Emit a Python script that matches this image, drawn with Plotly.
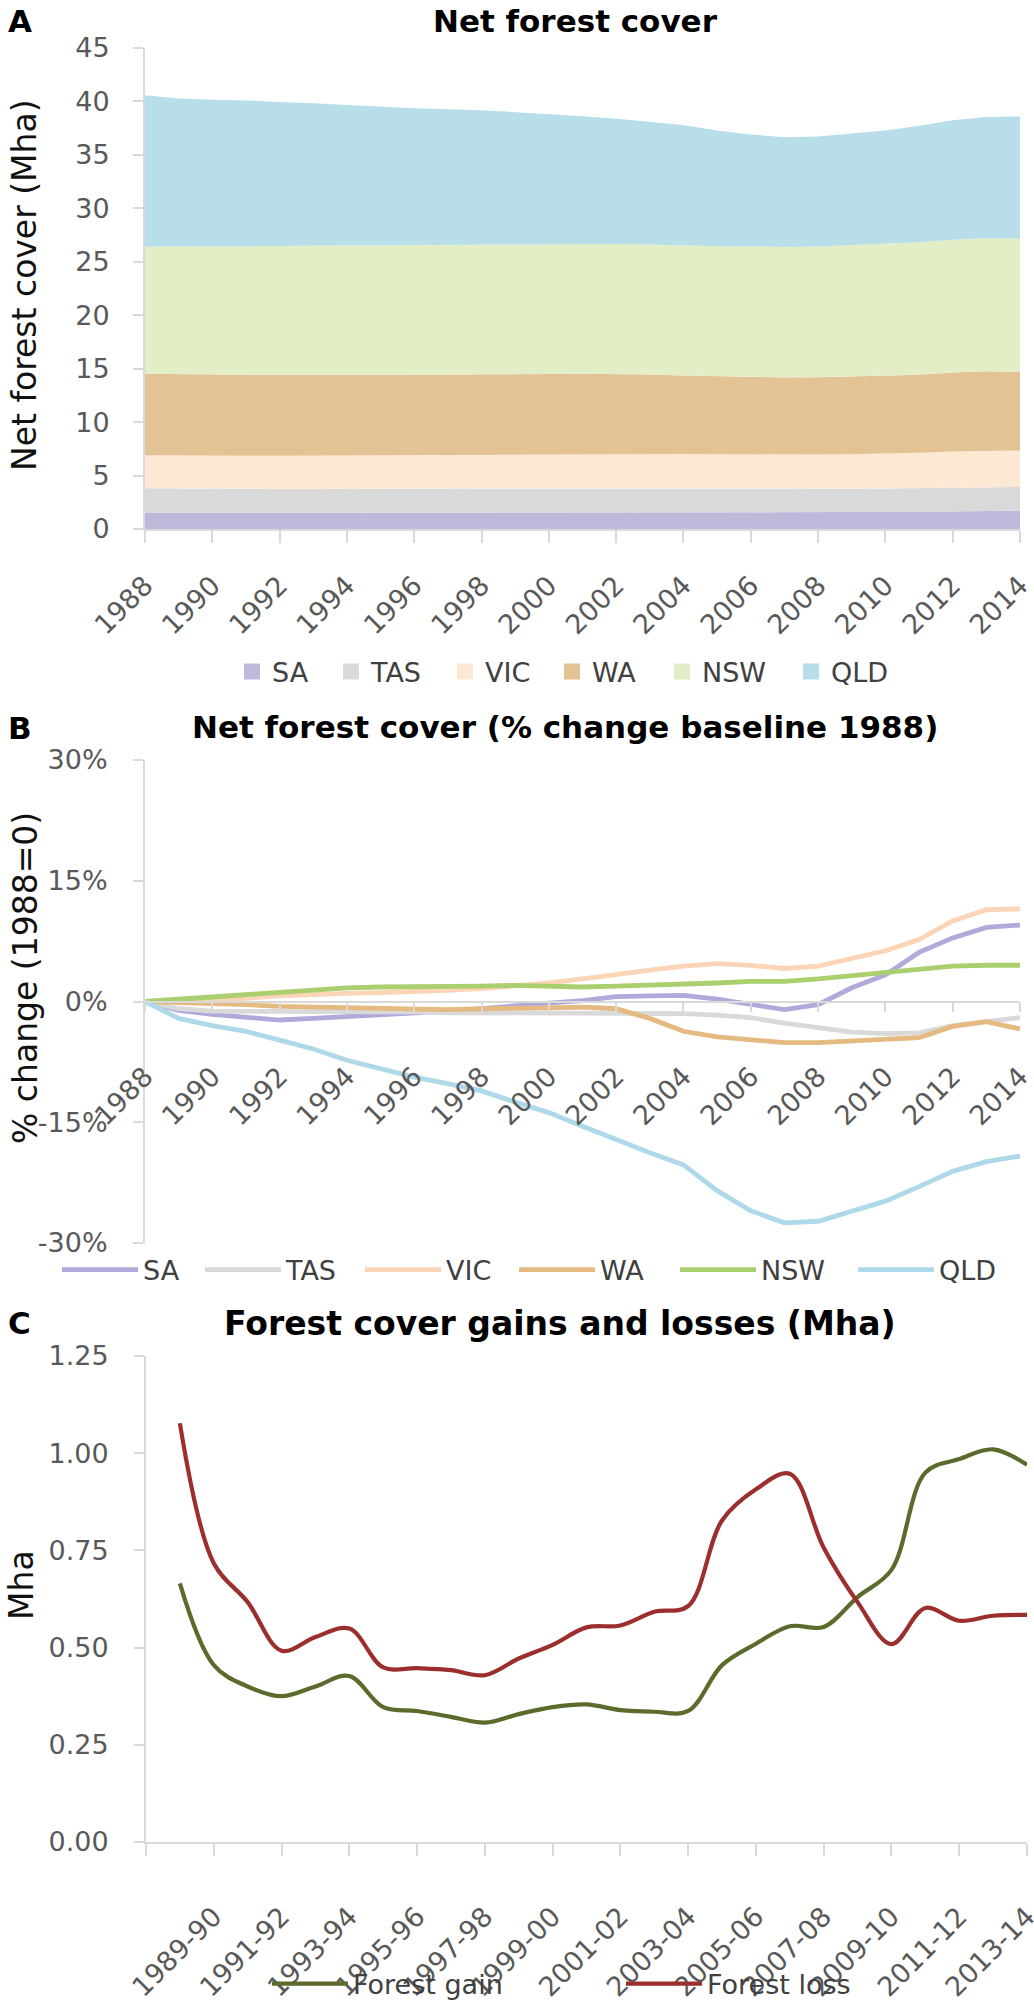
import plotly.graph_objects as go

W, H = 1034, 2006

# ---------------- data ----------------
years = list(range(1988, 2015))
states = ["SA", "TAS", "VIC", "WA", "NSW", "QLD"]

# Panel A: net forest cover (Mha)
cover_SA = [1.55, 1.53, 1.53, 1.52, 1.51, 1.52, 1.52, 1.52, 1.53, 1.53, 1.54, 1.54, 1.55, 1.55,
            1.56, 1.56, 1.56, 1.55, 1.54, 1.53, 1.54, 1.58, 1.60, 1.64, 1.67, 1.69, 1.70]
cover_TAS = [2.27, 2.25, 2.24, 2.24, 2.24, 2.24, 2.24, 2.24, 2.24, 2.24, 2.24, 2.24, 2.24, 2.24,
             2.24, 2.24, 2.24, 2.23, 2.22, 2.21, 2.20, 2.18, 2.18, 2.18, 2.20, 2.21, 2.22]
cover_VIC = [3.08, 3.08, 3.09, 3.09, 3.10, 3.11, 3.11, 3.11, 3.12, 3.12, 3.13, 3.14, 3.15, 3.17,
             3.18, 3.20, 3.22, 3.22, 3.22, 3.21, 3.22, 3.24, 3.27, 3.32, 3.39, 3.43, 3.43]
cover_WA = [7.62, 7.61, 7.60, 7.59, 7.57, 7.57, 7.56, 7.55, 7.54, 7.54, 7.55, 7.55, 7.56, 7.57,
            7.55, 7.46, 7.34, 7.28, 7.25, 7.23, 7.23, 7.25, 7.26, 7.28, 7.38, 7.43, 7.36]
cover_NSW = [11.91, 11.95, 11.98, 12.02, 12.05, 12.08, 12.11, 12.12, 12.12, 12.14, 12.14, 12.15, 12.14, 12.12,
             12.14, 12.15, 12.16, 12.18, 12.21, 12.21, 12.24, 12.29, 12.34, 12.40, 12.43, 12.45, 12.45]
cover_QLD = [14.15, 13.85, 13.73, 13.63, 13.47, 13.32, 13.12, 12.96, 12.82, 12.71, 12.58, 12.38, 12.20, 11.96,
             11.72, 11.49, 11.28, 10.82, 10.47, 10.26, 10.29, 10.47, 10.64, 10.90, 11.16, 11.33, 11.43]

# Panel B: % change vs 1988
pct_SA = [0, -1.1, -1.6, -2.0, -2.3, -2.1, -1.9, -1.7, -1.5, -1.2, -0.9, -0.5, -0.2, 0.1,
          0.6, 0.7, 0.75, 0.3, -0.4, -1.0, -0.4, 1.7, 3.3, 6.1, 7.9, 9.2, 9.5]
pct_TAS = [0, -0.9, -1.2, -1.2, -1.2, -1.2, -1.2, -1.3, -1.3, -1.4, -1.4, -1.4, -1.4, -1.4,
           -1.4, -1.4, -1.5, -1.7, -2.0, -2.7, -3.3, -3.8, -4.0, -3.9, -3.0, -2.5, -2.0]
pct_VIC = [0, 0.1, 0.2, 0.4, 0.7, 0.9, 1.0, 1.1, 1.2, 1.4, 1.6, 1.9, 2.3, 2.8,
           3.4, 3.9, 4.4, 4.7, 4.5, 4.1, 4.4, 5.3, 6.3, 7.7, 10.0, 11.4, 11.5]
pct_WA = [0, -0.1, -0.2, -0.4, -0.6, -0.7, -0.8, -0.9, -1.0, -1.0, -0.9, -0.9, -0.8, -0.7,
          -0.9, -2.1, -3.7, -4.4, -4.8, -5.1, -5.1, -4.9, -4.7, -4.5, -3.1, -2.5, -3.4]
pct_NSW = [0, 0.3, 0.6, 0.9, 1.2, 1.4, 1.7, 1.8, 1.8, 1.9, 1.9, 2.0, 1.9, 1.8,
           1.9, 2.0, 2.1, 2.3, 2.5, 2.5, 2.8, 3.2, 3.6, 4.1, 4.4, 4.5, 4.5]
pct_QLD = [0, -2.1, -3.0, -3.7, -4.8, -5.9, -7.3, -8.4, -9.4, -10.2, -11.1, -12.5, -13.8, -15.5,
           -17.2, -18.8, -20.3, -23.5, -26.0, -27.5, -27.3, -26.0, -24.8, -23.0, -21.1, -19.9, -19.2]

# Panel C: gains and losses (Mha)
periods = ["1988-89", "1989-90", "1990-91", "1991-92", "1992-93", "1993-94", "1994-95",
           "1995-96", "1996-97", "1997-98", "1998-99", "1999-00", "2000-01", "2001-02",
           "2002-03", "2003-04", "2004-05", "2005-06", "2006-07", "2007-08", "2008-09",
           "2009-10", "2010-11", "2011-12", "2012-13", "2013-14"]
forest_gain = [0.665, 0.455, 0.40, 0.375, 0.40, 0.427, 0.347, 0.337, 0.322, 0.307, 0.329, 0.347, 0.354,
               0.339, 0.335, 0.337, 0.455, 0.51, 0.555, 0.553, 0.63, 0.70, 0.95, 0.985, 1.01, 0.97]
forest_loss = [1.077, 0.717, 0.617, 0.492, 0.527, 0.549, 0.449, 0.447, 0.442, 0.429, 0.472, 0.507, 0.552,
               0.557, 0.592, 0.607, 0.827, 0.907, 0.947, 0.757, 0.617, 0.509, 0.602, 0.569, 0.582, 0.584]

cover = [cover_SA, cover_TAS, cover_VIC, cover_WA, cover_NSW, cover_QLD]
pcts = [pct_SA, pct_TAS, pct_VIC, pct_WA, pct_NSW, pct_QLD]

# ---------------- styling ----------------
fill_cols = ["#BDB9DB", "#D9D9D9", "#FDE8D4", "#E3C294", "#E3EEC6", "#B7DEE9"]
line_cols = ["#B2A9DB", "#D9D9D9", "#FBD5B5", "#E5BA80", "#ABCE6E", "#AED9E8"]
gain_col = "#5A6B2C"
loss_col = "#9C2E2E"

FONT = "DejaVu Sans"
TICK = dict(family=FONT, size=27, color="#595959")
AXCOL = "#D9D9D9"


def px_x(p):
    return p / W


def px_y(p):
    return 1 - p / H


fig = go.Figure()

# Panel A stacked areas
for s, vals, c in zip(states, cover, fill_cols):
    fig.add_trace(go.Scatter(x=years, y=vals, stackgroup="a", mode="lines",
                             line=dict(width=0, color=c), fillcolor=c, name=s,
                             showlegend=False, xaxis="x", yaxis="y", hoverinfo="x+y+name"))
# legend entries for panel A (square swatches)
a_lw = [54, 69, 62, 65, 84, 60]
for s, c, lw in zip(states, fill_cols, a_lw):
    fig.add_trace(go.Scatter(x=[None], y=[None], mode="markers", name=s,
                             marker=dict(symbol="square", size=19, color=c),
                             legend="legend", legendwidth=lw, xaxis="x", yaxis="y"))

# Panel B lines
b_lw = [52, 69, 63, 70, 87, 60]
for s, vals, c, lw in zip(states, pcts, line_cols, b_lw):
    fig.add_trace(go.Scatter(x=years, y=vals, mode="lines", name=s,
                             line=dict(width=4.8, color=c),
                             legend="legend2", legendwidth=lw, xaxis="x2", yaxis="y2"))

# Panel C lines
idx = list(range(len(periods)))
fig.add_trace(go.Scatter(x=idx, y=forest_gain, mode="lines", name="Forest gain",
                         line=dict(width=4.2, color=gain_col, shape="spline", smoothing=1.0),
                         text=periods, legend="legend3", legendwidth=263, xaxis="x3", yaxis="y3"))
fig.add_trace(go.Scatter(x=idx, y=forest_loss, mode="lines", name="Forest loss",
                         line=dict(width=4.2, color=loss_col, shape="spline", smoothing=1.0),
                         text=periods, legend="legend3", legendwidth=150, xaxis="x3", yaxis="y3"))

common_axis = dict(showgrid=False, zeroline=False, showline=True, linecolor=AXCOL, linewidth=2,
                   ticks="outside", tickcolor=AXCOL, tickwidth=2, tickfont=TICK)

year_ticks = years[::2]

fig.update_layout(
    width=W, height=H, margin=dict(l=0, r=0, t=0, b=0, autoexpand=False),
    paper_bgcolor="white", plot_bgcolor="white",
    xaxis=dict(domain=[px_x(145), px_x(1020)], range=[1988, 2014], anchor="y",
               tickmode="array", tickvals=year_ticks, tickangle=-45, ticklen=12,
               ticklabelstandoff=16, ticklabeloverflow="allow", **common_axis),
    yaxis=dict(domain=[px_y(529), px_y(48)], range=[0, 45], anchor="x",
               tickmode="linear", tick0=0, dtick=5, ticklen=10, ticklabelstandoff=18,
               **common_axis),
    xaxis2=dict(domain=[px_x(145), px_x(1020)], range=[1988, 2014], anchor="free",
                position=px_y(1002),
                tickmode="array", tickvals=year_ticks, tickangle=-45, ticklen=9,
                ticklabelstandoff=38, ticklabeloverflow="allow", **common_axis),
    yaxis2=dict(domain=[px_y(1243), px_y(760)], range=[-30, 30], anchor="x2",
                tickmode="array", tickvals=[-30, -15, 0, 15, 30],
                ticktext=["-30%", "-15%", "0%", "15%", "30%"], ticklen=10,
                ticklabelstandoff=20, **common_axis),
    xaxis3=dict(domain=[px_x(146), px_x(1027)], range=[-1, len(periods) - 1], anchor="y3",
                tickmode="array", tickvals=[-1] + idx[1::2],
                ticktext=[""] + periods[1::2], tickangle=-45, ticklen=12,
                ticklabelstandoff=34, ticklabeloverflow="allow", **common_axis),
    yaxis3=dict(domain=[px_y(1842), px_y(1356)], range=[0, 1.25], anchor="x3",
                tickmode="linear", tick0=0, dtick=0.25, tickformat=".2f", ticklen=10,
                ticklabelstandoff=20, **common_axis),
    legend=dict(orientation="h", x=px_x(232), xanchor="left", y=px_y(672), yanchor="middle",
                font=dict(family=FONT, size=27, color="#404040"), bgcolor="rgba(0,0,0,0)",
                itemwidth=30, traceorder="normal"),
    legend2=dict(orientation="h", x=px_x(57), xanchor="left", y=px_y(1270), yanchor="middle",
                 font=dict(family=FONT, size=27, color="#404040"), bgcolor="rgba(0,0,0,0)",
                 itemwidth=76, traceorder="normal"),
    legend3=dict(orientation="h", x=px_x(267), xanchor="left", y=px_y(1984), yanchor="middle",
                 font=dict(family=FONT, size=27, color="#404040"), bgcolor="rgba(0,0,0,0)",
                 itemwidth=76, traceorder="normal"),
    showlegend=True,
)


def ann(text, x, y, size, bold=False, angle=0, color="black"):
    t = f"<b>{text}</b>" if bold else text
    fig.add_annotation(text=t, x=px_x(x), y=px_y(y), xref="paper", yref="paper",
                       showarrow=False, xanchor="center", yanchor="middle", textangle=angle,
                       font=dict(family=FONT, size=size, color=color))


# panel letters and titles
ann("A", 20, 21, 31, bold=True)
ann("Net forest cover", 575, 21, 31, bold=True)
ann("B", 20, 728, 31, bold=True)
ann("Net forest cover (% change baseline 1988)", 565, 727, 31, bold=True)
ann("C", 19, 1323, 31, bold=True)
ann("Forest cover gains and losses (Mha)", 560, 1323, 33, bold=True)

# axis titles
ann("Net forest cover (Mha)", 25, 285, 33, angle=-90, color="#111111")
ann("% change (1988=0)", 25, 978, 33, angle=-90, color="#111111")
ann("Mha", 21, 1585, 33, angle=-90, color="#111111")

fig.write_html(
    "out.html",
    config={"displayModeBar": False},
    post_script="document.body.style.margin='0px';document.body.style.padding='0px';"
                "document.documentElement.style.overflow='hidden';",
)
